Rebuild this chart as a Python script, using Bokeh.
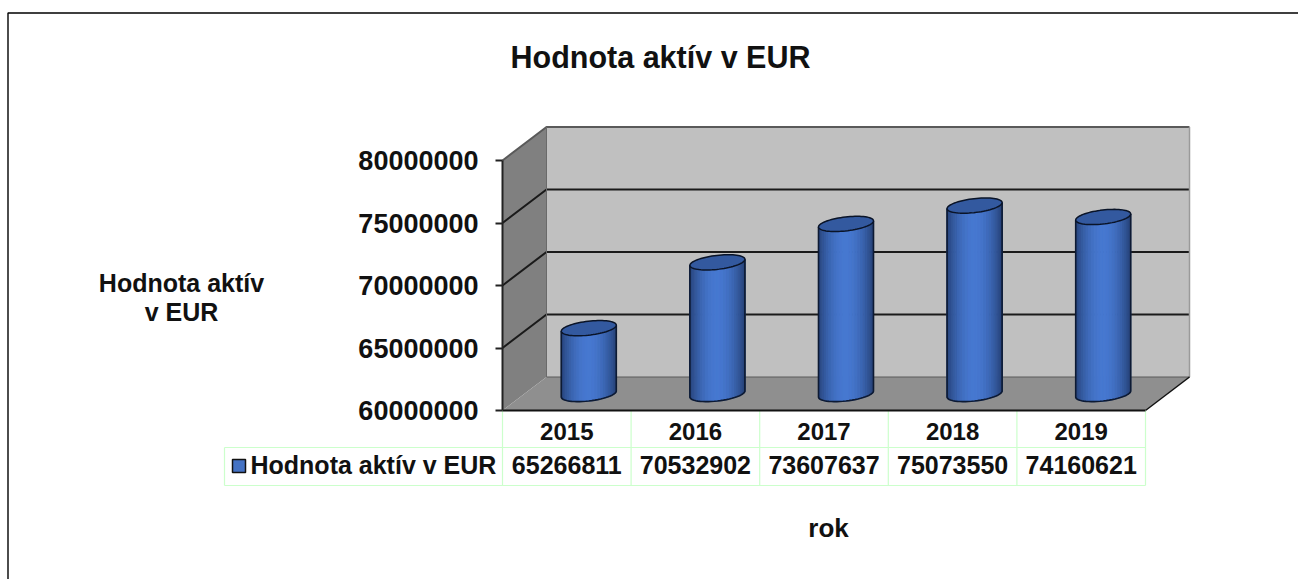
import numpy as np
from bokeh.plotting import figure
from bokeh.embed import file_html
from bokeh.resources import INLINE
from bokeh.models import Range1d, FixedTicker, NumeralTickFormatter, Label
from bokeh.core.properties import value

years = ["2015", "2016", "2017", "2018", "2019"]
assets = [65266811, 70532902, 73607637, 75073550, 74160621]
y_ticks = [60000000, 65000000, 70000000, 75000000, 80000000]
series_name = "Hodnota aktív v EUR"
chart_title = "Hodnota aktív v EUR"
y_title = ["Hodnota aktív", "v EUR"]
x_title = "rok"

FONT = "Liberation Sans"
W, H = 1298, 579
PX0, PY0 = 502.0, 410.0       # page pixel of category 0 / value 60M
PXC, PYV = 128.6, 12.5e-6     # px per category, px per unit value

def fx(px): return (px - PX0) / PXC
def fy(py): return y_ticks[0] + (PY0 - py) / PYV

p = figure(width=W, height=H, output_backend="svg", toolbar_location=None, min_border=0,
           x_range=Range1d(fx(0), fx(W)), y_range=Range1d(fy(H), fy(0)))
p.outline_line_color = None
p.grid.visible = False
p.background_fill_color = "white"

DX, DY = 44 / PXC, 33.5 / PYV
n = len(years)
Y0, Y1 = y_ticks[0], y_ticks[-1]

# page frame lines
p.line([fx(7.5), fx(7.5), fx(W)], [fy(H), fy(12.5), fy(12.5)], line_color="#000000", line_width=1.4)

# walls
p.patch([DX, n + DX, n + DX, DX], [Y0 + DY, Y0 + DY, Y1 + DY, Y1 + DY], fill_color="#C0C0C0", line_color=None)
p.patch([0, DX, DX, 0], [Y0, Y0 + DY, Y1 + DY, Y1], fill_color="#808080", line_color=None)
p.patch([0, n, n + DX, DX], [Y0, Y0, Y0 + DY, Y0 + DY], fill_color="#8F8F8F", line_color=None)

# gridlines, wall edges
for v in y_ticks[1:-1]:
    p.line([0, DX, n + DX], [v, v + DY, v + DY], line_color="#1A1A1A", line_width=2)
p.line([0, DX, n + DX], [Y1, Y1 + DY, Y1 + DY], line_color="#5A5A5A", line_width=2)
p.line([n + DX, n + DX], [Y1 + DY, Y0 + DY], line_color="#9A9A9A", line_width=1.5)
p.line([DX, n + DX], [Y0 + DY, Y0 + DY], line_color="#5A5A5A", line_width=1)
p.line([n, n + DX], [Y0, Y0 + DY], line_color="#111111", line_width=1.5)
p.line([DX, DX], [Y0 + DY, Y1 + DY], line_color="#6A6A6A", line_width=1)

# cylinders
RX, RY, TILT = 27.5, 7.0, 0.11
t = np.linspace(np.pi, 0, 29)   # left to right along the near (lower) arc
c0, c1 = np.array([38, 66, 120]), np.array([70, 120, 208])

def hexc(c):
    return "#%02X%02X%02X" % tuple(int(round(a)) for a in c)

for i, v in enumerate(assets):
    cx = PX0 + (i + 0.5) * PXC + 22
    base = PY0 - 16.5
    top = PY0 - (v - Y0) * PYV - 16.5
    ex = cx + RX * np.cos(t)
    lower = RY * np.sin(t) - TILT * RX * np.cos(t)
    for j in range(len(t) - 1):
        m = 0.5 * (np.cos(t[j]) + np.cos(t[j + 1]))
        s = 1 - abs(m) ** 2.0
        col = hexc(c0 + (c1 - c0) * s)
        xs = fx(np.array([ex[j], ex[j + 1], ex[j + 1], ex[j]]))
        ys = fy(np.array([base + lower[j], base + lower[j + 1], top + lower[j + 1], top + lower[j]]))
        p.patch(xs, ys, fill_color=col, line_color=col, line_width=1)
    # outline of body
    ox = np.concatenate([[ex[0]], ex, [ex[-1]]])
    oy = np.concatenate([[top + lower[0]], base + lower, [top + lower[-1]]])
    p.line(fx(ox), fy(oy), line_color="#0D1A33", line_width=1.6)
    # top ellipse
    a = np.linspace(0, 2 * np.pi, 72)
    tx = cx + RX * np.cos(a)
    ty = top + RY * np.sin(a) - TILT * RX * np.cos(a)
    p.patch(fx(tx), fy(ty), fill_color="#33599F", line_color="#0A1428", line_width=1.5)

# data table
GRID = "#CCFFCC"
for px in [PX0 + k * PXC for k in range(n + 1)]:
    p.line([fx(px), fx(px)], [fy(410), fy(485)], line_color=GRID, line_width=1.2)
p.line([fx(224), fx(224)], [fy(447), fy(485)], line_color=GRID, line_width=1.2)
p.line([fx(224), fx(1145)], [fy(447), fy(447)], line_color=GRID, line_width=1.2)
p.line([fx(224), fx(1145)], [fy(485), fy(485)], line_color=GRID, line_width=1.2)

p.text(x=[i + 0.5 for i in range(n)], y=[fy(464)] * n, text=[str(v) for v in assets],
       text_font=value(FONT), text_font_style="bold", text_font_size="25px", text_color="#111111",
       text_align="center", text_baseline="middle")

# legend key
p.quad(left=fx(232), right=fx(245), top=fy(459), bottom=fy(472), fill_color="#4472C4",
       line_color="#111111", line_width=1.5)
p.text(x=[fx(250)], y=[fy(464)], text=[series_name], text_font=value(FONT), text_font_style="bold",
       text_font_size="25px", text_color="#111111", text_align="left", text_baseline="middle")

# axes
ax = p.yaxis[0]
ax.fixed_location = 0
ax.bounds = (Y0, Y1)
ax.ticker = FixedTicker(ticks=y_ticks)
ax.formatter = NumeralTickFormatter(format="0")
ax.major_tick_out = 7
ax.major_tick_in = 0
ax.minor_tick_out = 0
ax.minor_tick_in = 0
ax.axis_line_color = "#222222"
ax.axis_line_width = 2
ax.major_tick_line_color = "#222222"
ax.major_tick_line_width = 2
ax.major_label_standoff = 17
ax.major_label_text_font = FONT
ax.major_label_text_font_style = "bold"
ax.major_label_text_font_size = "27px"
ax.major_label_text_color = "#111111"

bx = p.xaxis[0]
bx.fixed_location = Y0
bx.bounds = (0, n)
bx.ticker = FixedTicker(ticks=[i + 0.5 for i in range(n)])
bx.major_label_overrides = {i + 0.5: y for i, y in enumerate(years)}
bx.major_tick_out = 0
bx.major_tick_in = 0
bx.minor_tick_out = 0
bx.minor_tick_in = 0
bx.axis_line_color = "#111111"
bx.axis_line_width = 2
bx.major_label_standoff = 12
bx.major_label_text_font = FONT
bx.major_label_text_font_style = "bold"
bx.major_label_text_font_size = "24px"
bx.major_label_text_color = "#111111"

def lab(txt, px, py, size):
    p.add_layout(Label(x=fx(px), y=fy(py), text=txt, text_font=FONT, text_font_style="bold",
                       text_font_size=size, text_color="#111111", text_align="center",
                       text_baseline="middle"))

lab(chart_title, 660, 56, "30.5px")
lab(y_title[0], 181, 282, "25px")
lab(y_title[1], 181, 311, "25px")
lab(x_title, 828, 527, "26px")

open("out.html", "w").write(file_html(p, INLINE))
